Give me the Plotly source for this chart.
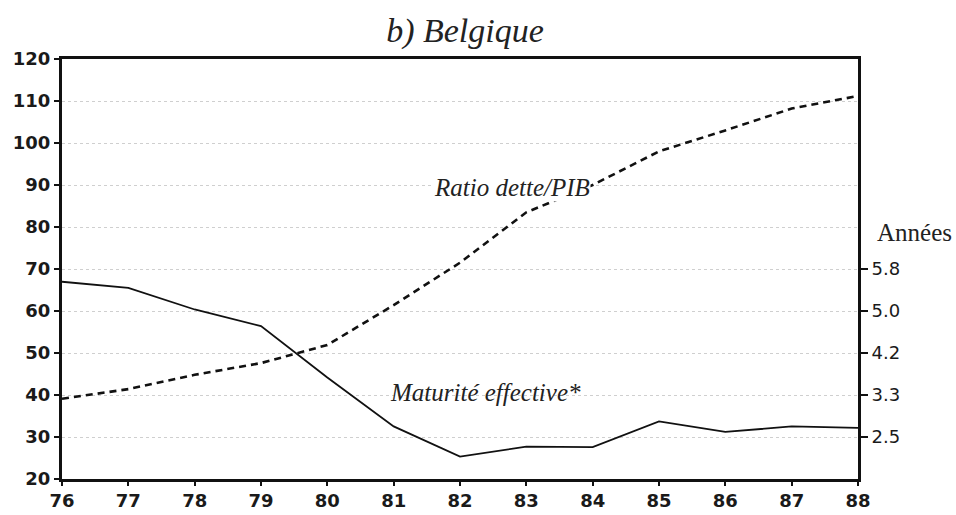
import plotly.graph_objects as go

years = [76, 77, 78, 79, 80, 81, 82, 83, 84, 85, 86, 87, 88]
year_labels = [str(y) for y in years]
ratio_dette_pib = [39.1, 41.4, 44.8, 47.6, 51.9, 61.4, 71.5, 83.5, 90.0, 98.0, 103.0, 108.2, 111.2]
maturite_annees = [5.58, 5.46, 5.03, 4.70, 3.68, 2.71, 2.11, 2.31, 2.30, 2.81, 2.60, 2.71, 2.68]
left_ticks = [20, 30, 40, 50, 60, 70, 80, 90, 100, 110, 120]
right_tick_vals = [30 / 12, 40 / 12, 50 / 12, 60 / 12, 70 / 12]
right_tick_text = ["2.5", "3.3", "4.2", "5.0", "5.8"]

tickfont = dict(family="DejaVu Sans", size=18, color="#1a1a1a", weight="bold")
serif = "Liberation Serif"

fig = go.Figure()
fig.add_trace(go.Scatter(x=years, y=ratio_dette_pib, mode="lines",
                         line=dict(color="#111", width=2.6, dash="7px,5px"),
                         yaxis="y", showlegend=False))
fig.add_trace(go.Scatter(x=years, y=maturite_annees, mode="lines",
                         line=dict(color="#111", width=1.8),
                         yaxis="y2", showlegend=False))

fig.update_layout(
    width=956, height=515,
    margin=dict(l=62, r=98, t=59, b=36, autoexpand=False),
    paper_bgcolor="white", plot_bgcolor="white",
    title=dict(text="<i>b) Belgique</i>", x=465 / 956, xanchor="center", y=1 - 30 / 515, yanchor="middle",
               font=dict(family=serif, size=34, color="#222")),
    xaxis=dict(range=[76, 88], tickvals=years, ticktext=year_labels, ticks="outside", ticklen=4,
               tickwidth=2, tickcolor="#111", tickfont=tickfont, showgrid=False, zeroline=False,
               showline=True, linecolor="#111", linewidth=2.5, mirror=True, automargin=False),
    yaxis=dict(range=[20, 120], tickvals=left_ticks, ticks="outside", ticklen=5, tickwidth=2,
               tickcolor="#111", tickfont=tickfont, showgrid=True, gridcolor="#cfcfcf",
               griddash="dot", gridwidth=1, zeroline=False, showline=True, linecolor="#111",
               linewidth=3, mirror=True, automargin=False),
    yaxis2=dict(range=[20 / 12, 120 / 12], overlaying="y", side="right", tickvals=right_tick_vals,
                ticktext=right_tick_text, ticks="outside", ticklen=9, tickwidth=1.5, tickcolor="#111",
                tickfont=dict(family="DejaVu Sans", size=18, color="#1a1a1a"), showgrid=False,
                zeroline=False, showline=False, automargin=False),
)

fig.add_annotation(x=82.78, y=89.5, xref="x", yref="y", text="<i>Ratio dette/PIB</i>", showarrow=False,
                   bgcolor="white", borderpad=0,
                   font=dict(family=serif, size=25, color="#222"))
fig.add_annotation(x=82.39, y=40.5, xref="x", yref="y", text="<i>Maturité effective*</i>", showarrow=False,
                   font=dict(family=serif, size=25, color="#222"))
fig.add_annotation(x=(914 - 62) / 796, y=(479 - 232) / 420, xref="paper", yref="paper", text="Années",
                   showarrow=False, font=dict(family=serif, size=25, color="#222"),
                   xanchor="center", yanchor="middle")

fig.write_html("out.html", config={"displayModeBar": False},
               post_script="document.body.style.margin='0';document.body.style.overflow='hidden';")
